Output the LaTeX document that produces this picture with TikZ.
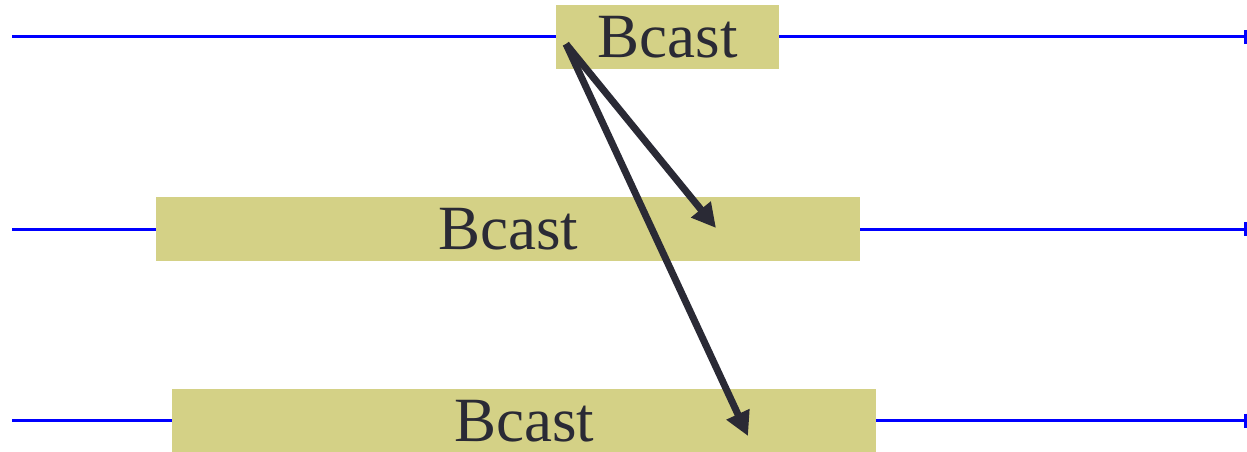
\documentclass[tikz,border=0pt]{standalone}
\usepackage{fontspec}
\setmainfont{Liberation Serif}
\usetikzlibrary{arrows.meta}
\definecolor{boxfill}{HTML}{D4D186}
\definecolor{ink}{HTML}{2A2A35}
\definecolor{lineblue}{HTML}{0000FF}
\begin{document}
\begin{tikzpicture}[x=1pt,y=-1pt,
  timeline/.style={draw=lineblue,line width=3pt,-{Bar[width=14pt]}},
  bcastbox/.style={fill=boxfill,inner sep=0pt,text=ink,font=\rmfamily\fontsize{63}{70}\selectfont,anchor=north west,text depth=0pt},
  msg/.style={draw=ink,line width=7pt,-{Triangle[length=24pt,width=24pt]}}]
\useasboundingbox (0,0) rectangle (1247,452);
% timelines
\coordinate (l1s) at (12,37);  \coordinate (l1e) at (1247,37);
\coordinate (l2s) at (12,229); \coordinate (l2e) at (1247,229);
\coordinate (l3s) at (12,420.5); \coordinate (l3e) at (1247,420.5);
\draw[timeline] (l1s) -- (l1e);
\draw[timeline] (l2s) -- (l2e);
\draw[timeline] (l3s) -- (l3e);
% boxes
\node[bcastbox,minimum width=223pt,minimum height=64pt] (b1) at (556,5) {Bcast};
\node[bcastbox,minimum width=704pt,minimum height=64pt] (b2) at (156,197) {Bcast};
\node[bcastbox,minimum width=704pt,minimum height=63pt] (b3) at (172,389) {Bcast};
% messages
\coordinate (src) at (566,44);
\coordinate (d2) at (716,228);
\coordinate (d3) at (748,436);
\draw[msg] (src) -- (d2);
\draw[msg] (src) -- (d3);
\end{tikzpicture}
\end{document}
